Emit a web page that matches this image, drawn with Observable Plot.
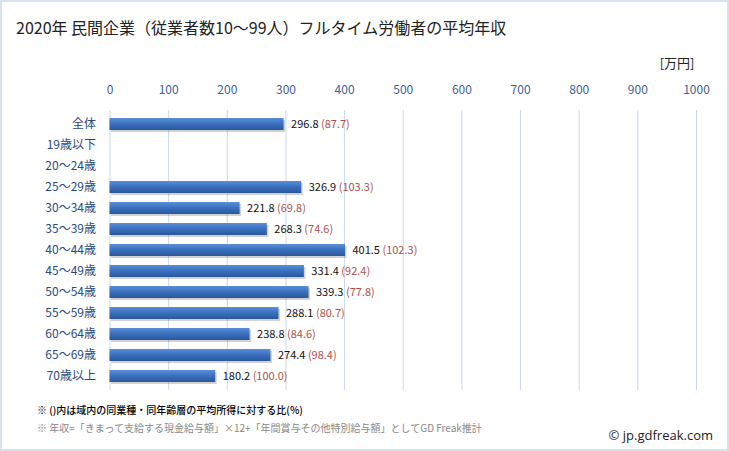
<!DOCTYPE html>
<html><head><meta charset="utf-8">
<script src="https://cdn.jsdelivr.net/npm/d3@7"></script>
<script src="https://cdn.jsdelivr.net/npm/@observablehq/plot@0.6"></script>
<style>
html,body{margin:0;padding:0;background:#fff;}
#wrap{position:relative;width:729px;height:451px;overflow:hidden;background:#fff;font-family:"Noto Sans CJK JP","Noto Sans",sans-serif;}
#border{position:absolute;left:0;top:0;width:729px;height:451px;box-sizing:border-box;border:2px solid #d6e2ef;pointer-events:none;}
#title{position:absolute;left:16px;top:15px;font-size:16px;color:#222;white-space:nowrap;}
#chart{position:absolute;left:0;top:50px;}
#note1{position:absolute;left:37px;top:402px;font-size:10px;color:#000;font-weight:500;white-space:nowrap;}
#note2{position:absolute;left:37px;top:420px;font-size:10px;color:#888;white-space:nowrap;}
#copy{position:absolute;right:16px;top:426px;font-size:13px;color:#222;white-space:nowrap;font-family:"Open Sans","Noto Sans",sans-serif;}
</style></head>
<body>
<div id="wrap">
  <div id="title">2020年 民間企業（従業者数10〜99人）フルタイム労働者の平均年収</div>
  <div id="chart"></div>
  <div id="note1">※ ()内は域内の同業種・同年齢層の平均所得に対する比(%)</div>
  <div id="note2">※ 年収=「きまって支給する現金給与額」×12+「年間賞与その他特別給与額」としてGD Freak推計</div>
  <div id="copy">© jp.gdfreak.com</div>
  <div id="border"></div>
</div>
<script>
const categories = ["全体","19歳以下","20〜24歳","25〜29歳","30〜34歳","35〜39歳","40〜44歳","45〜49歳","50〜54歳","55〜59歳","60〜64歳","65〜69歳","70歳以上"];
const incomes = [296.8, null, null, 326.9, 221.8, 268.3, 401.5, 331.4, 339.3, 288.1, 238.8, 274.4, 180.2];
const ratios = ["87.7", null, null, "103.3", "69.8", "74.6", "102.3", "92.4", "77.8", "80.7", "84.6", "98.4", "100.0"];
const xTicks = [0,100,200,300,400,500,600,700,800,900,1000];
const unitLabel = "[万円]";

const data = categories.map((c,i)=>({cat:c, v:incomes[i], r:ratios[i]}));
const bars = data.filter(d=>d.v!=null);

const gradDefs = () => {
  const ns = "http://www.w3.org/2000/svg";
  const defs = document.createElementNS(ns,"defs");
  defs.innerHTML = `<linearGradient id="barGrad" x1="0" y1="0" x2="0" y2="1">
    <stop offset="0" stop-color="#5a8fd6"/>
    <stop offset="0.45" stop-color="#3c72c2"/>
    <stop offset="1" stop-color="#2a5799"/>
  </linearGradient>`;
  return defs;
};

const chart = Plot.plot({
  width: 729,
  height: 340,
  marginLeft: 109.5,
  marginRight: 33,
  marginTop: 60,
  marginBottom: 0,
  style: {fontFamily: '"Noto Sans CJK JP","Noto Sans",sans-serif', background: "transparent"},
  x: {domain: [0,1000], axis: null},
  y: {domain: categories, axis: null, paddingInner: 0.42, paddingOuter: 0.21},
  marks: [
    gradDefs,
    Plot.gridX(xTicks, {stroke: "#c9d9ec", strokeOpacity: 1, strokeWidth: 1}),
    Plot.axisX(xTicks, {anchor: "top", tickSize: 0, tickPadding: 17, fontSize: 12, fill: "#3d5f96", label: null, tickFormat: d=>String(d)}),
    Plot.axisY(categories, {anchor: "left", tickSize: 0, tickPadding: 14, fontSize: 12, fill: "#2a4a80", label: null}),
    Plot.barX(bars, {x: "v", y: "cat", dx: 1.5, dy: 2, fill: "#000", fillOpacity: 0.18}),
    Plot.barX(bars, {x: "v", y: "cat", fill: "url(#barGrad)"}),
    Plot.text(bars, {x: "v", y: "cat", text: d=>d.v.toFixed(1)+" ("+d.r+")", textAnchor: "start", dx: 7, fontSize: 11, fill: "#111"}),
    Plot.text([unitLabel], {frameAnchor: "top-right", dx: -2, dy: -52, fontSize: 13, fill: "#222"})
  ]
});
document.getElementById("chart").appendChild(chart);

d3.select(chart).selectAll('text').each(function(){
  const t = d3.select(this);
  if (this.querySelector("tspan")) return;
  const s = t.text();
  if (!/^\d+\.\d \(/.test(s)) return;
  const k = s.indexOf(" ");
  t.text(null);
  t.append("tspan").text(s.slice(0,k+1));
  t.append("tspan").attr("fill","#b0504a").text(s.slice(k+1));
});
</script>
</body></html>
